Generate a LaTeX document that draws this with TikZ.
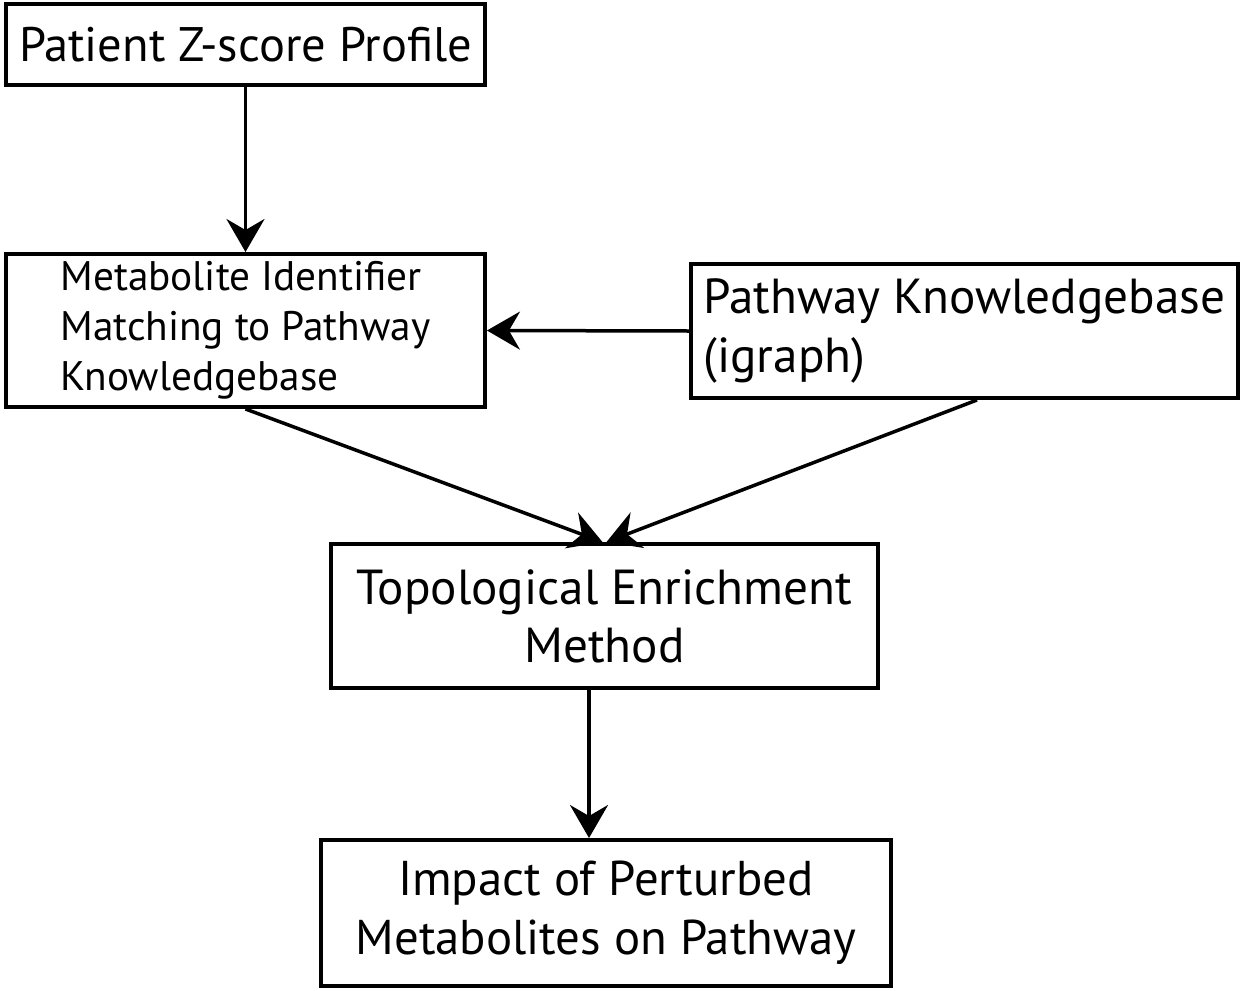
\documentclass[tikz,border=0pt]{standalone}
\usepackage{fontspec}
\setmainfont{PT Sans}
\usetikzlibrary{arrows.meta}
\tikzset{
	box/.style={draw, line width=0.08cm, inner sep=0pt},
	arr/.style={line width=0.07cm, -{Stealth[length=0.66cm, width=0.76cm, inset=0.22cm]}},
}
\begin{document}
\begin{tikzpicture}[x=0.02cm, y=-0.02cm]
	\useasboundingbox (0,0) rectangle (1242,991);
	\node (PZ) at (245.5, 44.5)	[box, minimum width=9.58cm, minimum height=1.62cm, font=\fontsize{27.6}{33}\selectfont]	{Patient Z-score Profile};
	\node (MI) at (245.5, 330.5)	[box, minimum width=9.58cm, minimum height=3.06cm, align=left, font=\fontsize{23.5}{28.5}\selectfont]	{Metabolite Identifier\\Matching to Pathway\\Knowledgebase};
	\node (PK) at (964.5, 331)	[box, minimum width=10.94cm, minimum height=2.68cm, align=left, font=\fontsize{28}{34}\selectfont]	{Pathway Knowledgebase\\(igraph)};
	\node (TE) at (604.5, 616)	[box, minimum width=10.94cm, minimum height=2.88cm, align=center, font=\fontsize{28}{33}\selectfont]	{Topological Enrichment\\Method};
	\node (IP) at (606, 913)	[box, minimum width=11.4cm, minimum height=2.92cm, align=center, font=\fontsize{27.8}{33.6}\selectfont]	{Impact of Perturbed\\Metabolites on Pathway};
	\draw[arr] (PZ) -- (MI);
	\draw[arr] (PK.west) -- (MI.east);
	\draw[arr] (MI.south) -- ([xshift=-0.04cm]TE.north);
	\draw[arr] ([xshift=0.25cm]PK.south) -- ([xshift=0.04cm]TE.north);
	\draw[arr] ([xshift=-0.31cm]TE.south) -- ([xshift=-0.31cm]TE.south |- IP.north);
\end{tikzpicture}
\end{document}
